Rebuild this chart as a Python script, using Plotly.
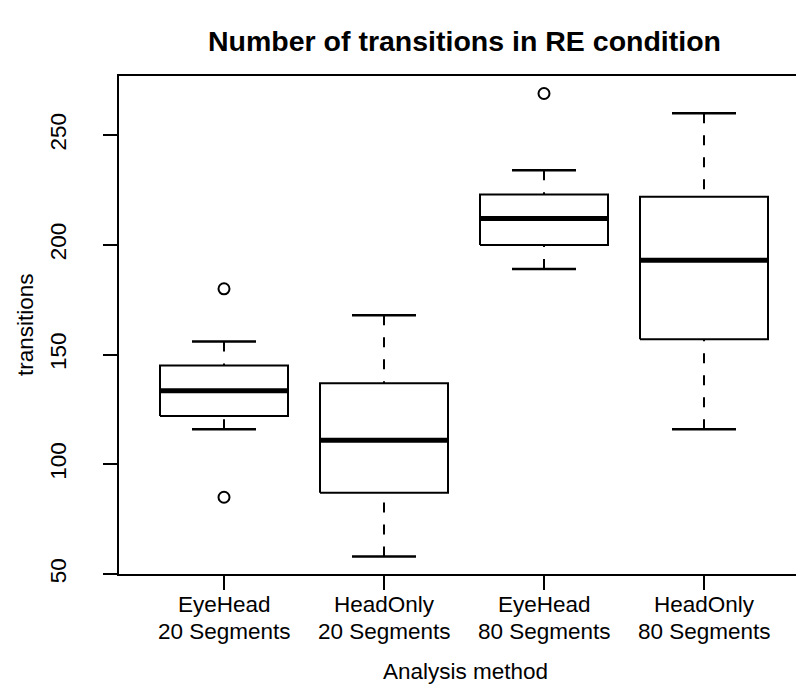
import plotly.graph_objects as go

# ---- data ----
methods = ["EyeHead", "HeadOnly", "EyeHead", "HeadOnly"]
segments = ["20 Segments", "20 Segments", "80 Segments", "80 Segments"]
positions = [1, 2, 3, 4]
lower_whisker = [116, 58, 189, 116]
q1 = [122, 87, 200, 157]
median = [133.5, 111, 212, 193]
q3 = [145, 137, 223, 222]
upper_whisker = [156, 168, 234, 260]
outliers = [[180, 85], [], [269], []]
y_ticks = [50, 100, 150, 200, 250]

title_text = "Number of transitions in RE condition"
x_title = "Analysis method"
y_title = "transitions"

FONT = "Liberation Sans, Arial, Helvetica, sans-serif"
BW = 0.4    # half box width
CW = 0.2    # half cap width
LW = 2

fig = go.Figure()

for i, x in enumerate(positions):
    # box
    fig.add_trace(go.Scatter(
        x=[x - BW, x + BW, x + BW, x - BW, x - BW],
        y=[q1[i], q1[i], q3[i], q3[i], q1[i]],
        mode="lines", line=dict(color="black", width=LW),
        hoverinfo="skip", showlegend=False))
    # whiskers (dashed) from caps to box
    fig.add_trace(go.Scatter(
        x=[x, x], y=[upper_whisker[i], q3[i]],
        mode="lines", line=dict(color="black", width=LW, dash="10px,12px"),
        hoverinfo="skip", showlegend=False))
    fig.add_trace(go.Scatter(
        x=[x, x], y=[lower_whisker[i], q1[i]],
        mode="lines", line=dict(color="black", width=LW, dash="10px,12px"),
        hoverinfo="skip", showlegend=False))
    # caps
    fig.add_trace(go.Scatter(
        x=[x - CW, x + CW, None, x - CW, x + CW],
        y=[upper_whisker[i], upper_whisker[i], None, lower_whisker[i], lower_whisker[i]],
        mode="lines", line=dict(color="black", width=LW + 0.5),
        hoverinfo="skip", showlegend=False))
    # median
    fig.add_trace(go.Scatter(
        x=[x - BW, x + BW], y=[median[i], median[i]],
        mode="lines", line=dict(color="black", width=5),
        hoverinfo="skip", showlegend=False))
    # outliers
    if outliers[i]:
        fig.add_trace(go.Scatter(
            x=[x] * len(outliers[i]), y=outliers[i], mode="markers",
            marker=dict(symbol="circle-open", size=11, color="black",
                        line=dict(width=2, color="black")),
            hoverinfo="skip", showlegend=False))

W, H = 796, 687
L, R, T, B = 118, 0, 75, 112
plot_w = W - L - R
plot_h = H - T - B
px_per_unit = 160.0
x0 = 0.3375
x1 = x0 + plot_w / px_per_unit


def py(pix):
    """pixel row -> paper y"""
    return (H - B - pix) / plot_h


annotations = [
    dict(text="<b>" + title_text + "</b>", xref="paper", yref="paper",
         x=(464 - L) / plot_w, y=py(41), xanchor="center", yanchor="middle",
         showarrow=False, font=dict(size=28.5, family=FONT)),
    dict(text=x_title, xref="paper", yref="paper",
         x=(465 - L) / plot_w, y=py(671), xanchor="center", yanchor="middle",
         showarrow=False, font=dict(size=22.5, family=FONT)),
    dict(text=y_title, xref="paper", yref="paper",
         x=(25 - L) / plot_w, y=0.5, xanchor="center", yanchor="middle",
         textangle=-90, showarrow=False, font=dict(size=22.5, family=FONT)),
]
# category labels (two lines) under each tick
for i, x in enumerate(positions):
    annotations.append(dict(text=methods[i], xref="x", yref="paper", x=x, y=py(604),
                            xanchor="center", yanchor="middle", showarrow=False,
                            font=dict(size=22.5, family=FONT)))
    annotations.append(dict(text=segments[i], xref="x", yref="paper", x=x, y=py(631),
                            xanchor="center", yanchor="middle", showarrow=False,
                            font=dict(size=22.5, family=FONT)))

fig.update_layout(
    width=W, height=H,
    margin=dict(l=L, r=R, t=T, b=B),
    paper_bgcolor="white", plot_bgcolor="white",
    font=dict(family=FONT, size=22.5, color="black"),
    xaxis=dict(range=[x0, x1], tickmode="array", tickvals=positions,
               showticklabels=False, showgrid=False, zeroline=False,
               showline=False,
               ticks="outside", ticklen=14, tickwidth=LW, tickcolor="black"),
    yaxis=dict(range=[49.56, 277.44], tickmode="array", tickvals=y_ticks,
               showgrid=False, zeroline=False, showline=False,
               ticks="outside", ticklen=14, tickwidth=LW, tickcolor="black",
               tickangle=-90, ticklabelstandoff=28),
    shapes=[dict(type="path", xref="paper", yref="paper",
                 path="M 1.02,1 L 0,1 L 0,0 L 1.02,0",
                 line=dict(color="black", width=LW))],
    annotations=annotations,
)

fig.write_html("out.html")
